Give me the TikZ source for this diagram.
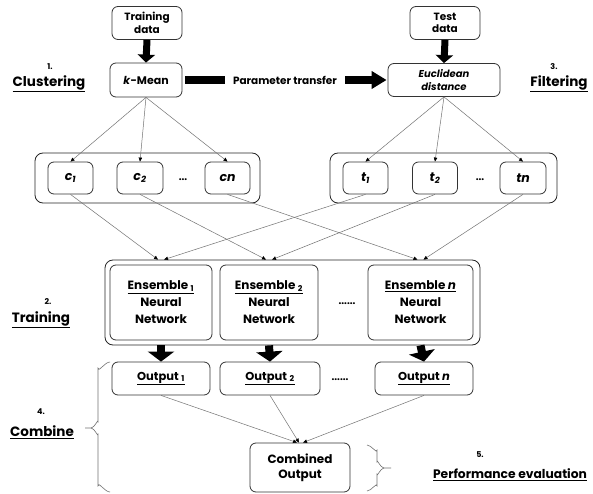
\documentclass[tikz,border=0pt]{standalone}
\usepackage{fontspec}
\setmainfont{Poppins}
\usetikzlibrary{arrows.meta,calc}
\begin{document}
\begin{tikzpicture}[x=1pt,y=-1pt,
  box/.style={draw=black!80, line width=0.8pt, rounded corners=6pt, align=center,
    font=\bfseries\fontsize{10.5}{12.5}\selectfont, inner sep=0pt},
  grp/.style={draw=black!85, line width=0.8pt, rounded corners=8pt, inner sep=0pt},
  thin/.style={draw=black!55, line width=0.5pt, -{Triangle[length=4pt,width=3.5pt,color=black]}},
  big/.style={draw=black, line width=8pt, -{Triangle[length=10pt,width=26pt]}},
  lbl/.style={font=\bfseries\fontsize{13.5}{15}\selectfont},
  num/.style={font=\bfseries\fontsize{8}{9}\selectfont},
  brace/.style={draw=black!55, line width=0.6pt},
  dots/.style={font=\bfseries\fontsize{10}{10}\selectfont},
  cbox/.style={box, minimum width=45pt, minimum height=32pt, font=\bfseries\itshape\fontsize{12.5}{13}\selectfont},
  ebox/.style={box, minimum height=75pt, font=\bfseries\fontsize{12}{17}\selectfont},
  obox/.style={box, minimum height=33pt, font=\bfseries\fontsize{11.5}{13}\selectfont}
]
\useasboundingbox[fill=white] (0,0) rectangle (593,494);

% top boxes
\node[box, minimum width=70pt, minimum height=33pt] (train) at (147,23) {Training\\data};
\node[box, minimum width=72pt, minimum height=34pt, font=\bfseries\fontsize{11}{12}\selectfont] (kmean) at (146,80) {\textit{k}-Mean};
\node[box, minimum width=70pt, minimum height=33pt] (test) at (445,23) {Test\\data};
\node[box, minimum width=112pt, minimum height=33pt, font=\bfseries\itshape\fontsize{10}{12.5}\selectfont] (eucl) at (444,80) {Euclidean\\distance};

\draw[draw=black, line width=7pt, -{Triangle[length=8pt,width=17pt]}] (train.south) -- (kmean.north);
\draw[draw=black, line width=7pt, -{Triangle[length=8pt,width=17pt]}] (test.south) -- (eucl.north);
\draw[draw=black, line width=8pt, -{Triangle[length=15pt,width=17pt]}, shorten <=3pt, shorten >=1pt]
  (kmean.east) -- node[fill=white, inner xsep=8pt, inner ysep=6pt, font=\bfseries\fontsize{10.5}{12}\selectfont] (ptr) {Parameter transfer} (eucl.west);

% side labels
\node[num] (n1) at (50,67) {1.};
\node[lbl] (l1) at (49,84) {\underline{Clustering}};
\node[num] (n3) at (554,67) {3.};
\node[lbl] (l3) at (559,84) {\underline{Filtering}};
\node[num] (n2) at (48,302) {2.};
\node[lbl] (l2) at (41,320) {\underline{Training}};
\node[num] (n4) at (41,412) {4.};
\node[lbl] (l4) at (42,432) {\underline{Combine}};
\node[num] (n5) at (480,455) {5.};
\node[lbl, font=\bfseries\fontsize{12.3}{14}\selectfont] (l5) at (510,475) {\underline{Performance evaluation}};

% cluster group
\node[grp, minimum width=225pt, minimum height=50pt] (cg) at (147.5,178) {};
\node[cbox] (c1) at (70.5,178) {c\textsubscript{1}};
\node[cbox, minimum width=46pt] (c2) at (140,178) {c\textsubscript{2}};
\node[cbox] (cn) at (227.5,178) {cn};
\node[dots] (cd) at (183,180) {...};

% test group
\node[grp, minimum width=227pt, minimum height=50pt] (tg) at (443.5,178) {};
\node[cbox] (t1) at (365.5,178) {t\textsubscript{1}};
\node[cbox] (t2) at (435,178) {t\textsubscript{2}};
\node[cbox, minimum width=46pt] (tn) at (523,178) {tn};
\node[dots] (td) at (480,180) {...};

\draw[thin] (kmean.south) -- (c1.north);
\draw[thin] (kmean.south) -- (c2.north);
\draw[thin] (kmean.south) -- (cn.north);
\draw[thin] (eucl.south) -- (t1.north);
\draw[thin] (eucl.south) -- (t2.north);
\draw[thin] (eucl.south) -- (tn.north);

% ensembles
\node[grp, minimum width=375pt, minimum height=85pt] (ens) at (292.5,302.5) {};
\node[ebox, minimum width=102pt] (e1) at (161,302.5) {\underline{Ensemble \textsubscript{1}}\\Neural\\Network};
\node[ebox, minimum width=98pt] (e2) at (269,302.5) {\underline{Ensemble \textsubscript{2}}\\Neural\\Network};
\node[ebox, minimum width=105pt] (en) at (420.5,302.5) {\underline{Ensemble \textit{n}}\\Neural\\Network};
\node[dots] (ed) at (347,304) {......};

\draw[thin] (c1.south) -- ([xshift=-3pt]e1.north |- ens.north);
\draw[thin] (t1.south) -- ([xshift=3pt]e1.north |- ens.north);
\draw[thin] (c2.south) -- ([xshift=-3pt]e2.north |- ens.north);
\draw[thin] (t2.south) -- ([xshift=3pt]e2.north |- ens.north);
\draw[thin] (cn.south) -- ([xshift=-3pt]en.north |- ens.north);
\draw[thin] (tn.south) -- ([xshift=3pt]en.north |- ens.north);

% outputs
\node[obox, minimum width=98pt] (o1) at (161,378.5) {\underline{Output \textsubscript{1}}};
\node[obox, minimum width=100pt] (o2) at (270,378.5) {\underline{Output \textsubscript{2}}};
\node[obox, minimum width=98pt] (on) at (424,378.5) {\underline{Output \textit{n}}};
\node[dots] (od) at (340,380) {......};

\draw[big] (e1.south |- ens.south) -- (o1.north);
\draw[big] (e2.south |- ens.south) -- (o2.north);
\draw[big] (en.south |- ens.south) -- (on.north);

% combined
\node[box, minimum width=100pt, minimum height=49pt, font=\bfseries\fontsize{12}{15}\selectfont] (comb) at (300,467.5) {Combined\\Output};
\draw[thin] (o1.south) -- ([xshift=-3pt]comb.north);
\draw[thin] (o2.south) -- ([xshift=-1pt]comb.north);
\draw[thin] (on.south) -- ([xshift=3pt]comb.north);

% braces
\coordinate (b4) at (85,428);
\draw[brace] (110,362) to[out=180,in=-90] (98,368) -- (98,422) to[out=90,in=0] (91,428) -- (b4);
\draw[brace] (91,428) to[out=0,in=-90] (98,434) -- (98,486) to[out=90,in=180] (110,492);
\coordinate (b5) at (391,468);
\draw[brace] (367,445) to[out=0,in=-90] (377,450) -- (377,462) to[out=90,in=180] (384,468) -- (b5);
\draw[brace] (384,468) to[out=180,in=-90] (377,474) -- (377,486) to[out=90,in=0] (367,491);
\end{tikzpicture}
\end{document}
